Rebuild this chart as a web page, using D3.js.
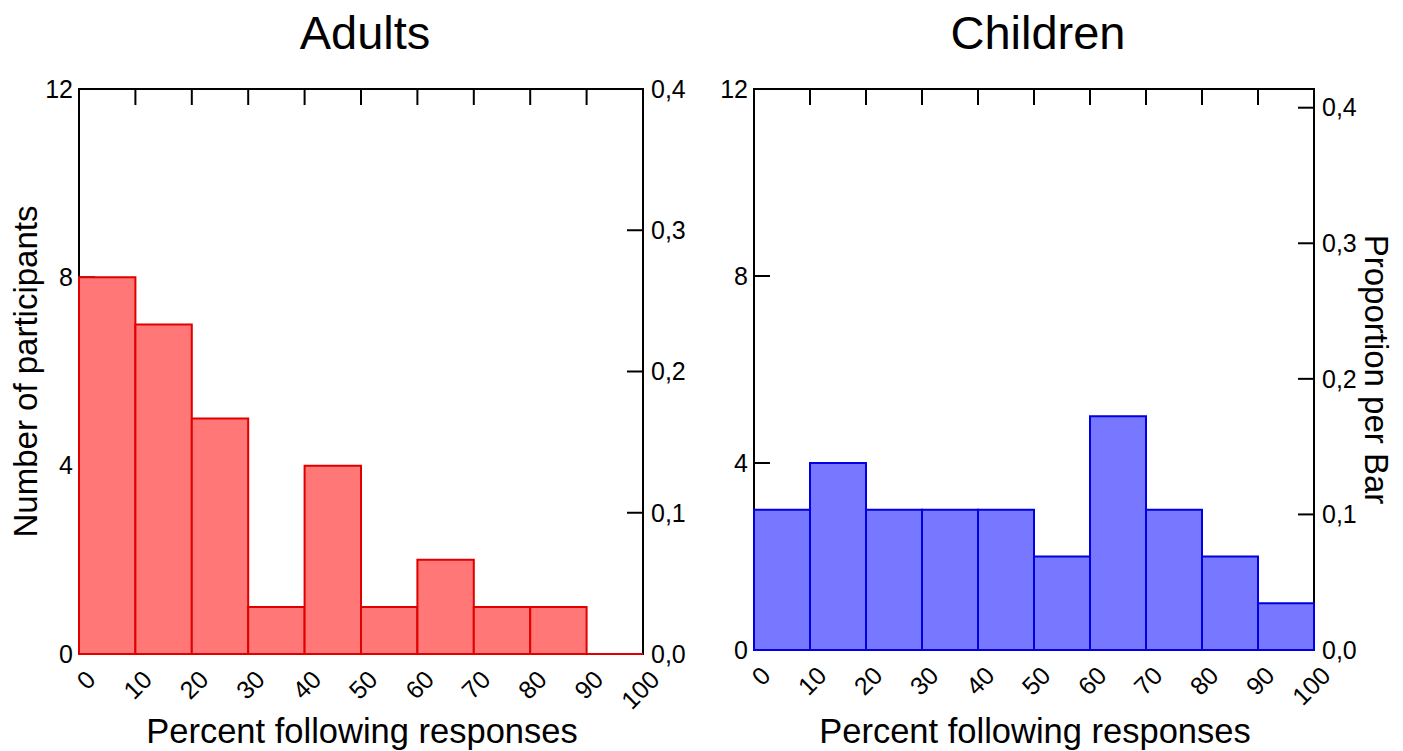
<!DOCTYPE html>
<html>
<head>
<meta charset="utf-8">
<script src="https://cdn.jsdelivr.net/npm/d3@7"></script>
<style>
  html, body { margin: 0; padding: 0; background: #fff; }
  svg { display: block; font-family: "Liberation Sans", Arial, sans-serif; }
</style>
</head>
<body>
<svg id="chart" width="1403" height="751"></svg>
<script>
// ---- data ----
const binEdges = [0, 10, 20, 30, 40, 50, 60, 70, 80, 90, 100];
const xTickLabels = ["0", "10", "20", "30", "40", "50", "60", "70", "80", "90", "100"];
const adultsCounts = [8, 7, 5, 1, 4, 1, 2, 1, 1, 0];
const childrenCounts = [3, 4, 3, 3, 3, 2, 5, 3, 2, 1];
const countTicks = [0, 4, 8, 12];
const propTicks = [0, 0.1, 0.2, 0.3, 0.4];
const panelTitles = ["Adults", "Children"];

const svg = d3.select("#chart");

function drawPanel(cfg) {
  const { left, right, top, bottom, counts, title, fill, stroke, showYLabel, showPropLabel } = cfg;
  const total = d3.sum(counts);
  const x = d3.scaleLinear().domain([0, 100]).range([left, right]);
  const y = d3.scaleLinear().domain([0, 12]).range([bottom, top]);
  const yProp = d3.scaleLinear().domain([0, 12 / total]).range([bottom, top]);
  const g = svg.append("g");
  const tickLen = 16;
  const fs = 25;

  // frame
  g.append("rect")
    .attr("x", left).attr("y", top)
    .attr("width", right - left).attr("height", bottom - top)
    .attr("fill", "none").attr("stroke", "#000").attr("stroke-width", 2);

  // top ticks (inward)
  g.selectAll(".tt").data(binEdges.slice(1, -1)).enter().append("line")
    .attr("x1", d => x(d)).attr("x2", d => x(d))
    .attr("y1", top).attr("y2", top + tickLen)
    .attr("stroke", "#000").attr("stroke-width", 2);

  // left count axis ticks (inward)
  g.selectAll(".lt").data(countTicks).enter().append("line")
    .attr("x1", left).attr("x2", left + tickLen)
    .attr("y1", d => y(d)).attr("y2", d => y(d))
    .attr("stroke", "#000").attr("stroke-width", 2);
  g.selectAll(".ll").data(countTicks).enter().append("text")
    .attr("x", left - 6).attr("y", d => y(d))
    .attr("dy", "0.35em").attr("text-anchor", "end")
    .attr("font-size", fs).text(d => d);

  // right proportion axis ticks (inward)
  g.selectAll(".rt").data(propTicks).enter().append("line")
    .attr("x1", right - tickLen).attr("x2", right)
    .attr("y1", d => yProp(d)).attr("y2", d => yProp(d))
    .attr("stroke", "#000").attr("stroke-width", 2);
  g.selectAll(".rl").data(propTicks).enter().append("text")
    .attr("x", right + 8).attr("y", d => yProp(d))
    .attr("dy", "0.35em").attr("text-anchor", "start")
    .attr("font-size", fs).text(d => d.toFixed(1).replace(".", ","));

  // bars (paths so that zero-height bins still show their outline)
  const bins = counts.map((c, i) => ({ x0: binEdges[i], x1: binEdges[i + 1], c }));
  g.selectAll(".bar").data(bins).enter().append("path")
    .attr("d", d => `M${x(d.x0)},${y(0)}V${y(d.c)}H${x(d.x1)}V${y(0)}Z`)
    .attr("fill", fill).attr("stroke", stroke).attr("stroke-width", 2);

  // x tick labels rotated
  g.selectAll(".xl").data(binEdges).enter().append("text")
    .attr("transform", d => `translate(${x(d) + 12},${bottom + 21}) rotate(-45)`)
    .attr("text-anchor", "end").attr("dy", "0.35em")
    .attr("font-size", fs).text((d, i) => xTickLabels[i]);

  // title
  g.append("text")
    .attr("x", (left + right) / 2 + 4).attr("y", 49)
    .attr("text-anchor", "middle").attr("font-size", 47)
    .text(title);

  // x axis label
  g.append("text")
    .attr("x", (left + right) / 2 + 1).attr("y", 743)
    .attr("text-anchor", "middle").attr("font-size", 34.5)
    .text("Percent following responses");

  if (showYLabel) {
    g.append("text")
      .attr("transform", `translate(37,${(top + bottom) / 2}) rotate(-90)`)
      .attr("text-anchor", "middle").attr("font-size", 33)
      .text("Number of participants");
  }
  if (showPropLabel) {
    g.append("text")
      .attr("transform", `translate(1365,${(top + bottom) / 2}) rotate(90)`)
      .attr("text-anchor", "middle").attr("font-size", 33)
      .text("Proportion per Bar");
  }
}

drawPanel({ left: 79, right: 643, top: 89, bottom: 654, counts: adultsCounts, title: panelTitles[0],
  fill: "#ff7777", stroke: "#e00000", showYLabel: true, showPropLabel: false });
drawPanel({ left: 754, right: 1314, top: 89, bottom: 650, counts: childrenCounts, title: panelTitles[1],
  fill: "#7777ff", stroke: "#0000e0", showYLabel: false, showPropLabel: true });
</script>
</body>
</html>
